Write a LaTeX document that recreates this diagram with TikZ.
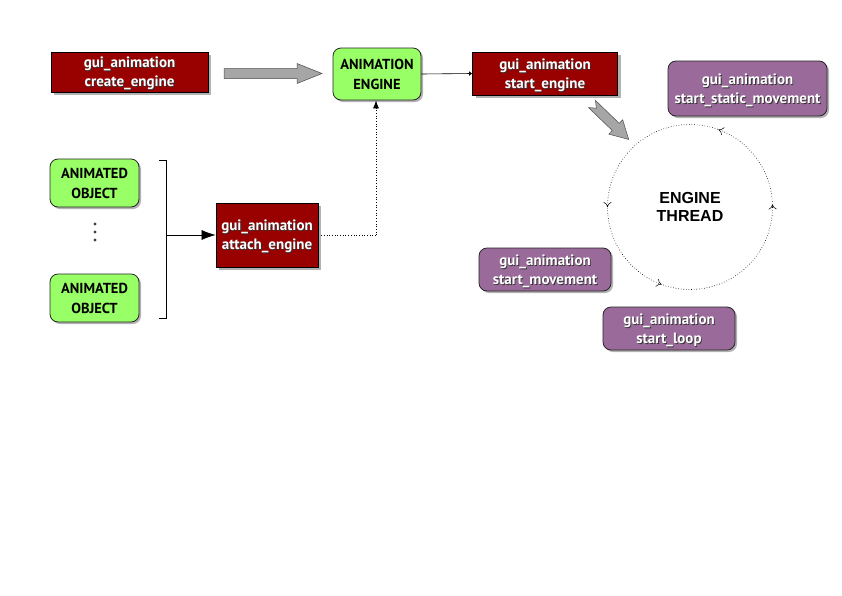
\documentclass[tikz,border=0pt]{standalone}
\usepackage{fontspec}
\setmainfont{PT Sans}
\newfontfamily\thrfont{Liberation Sans}
\usetikzlibrary{shadows,arrows.meta,decorations.markings}
\definecolor{dred}{HTML}{990000}
\definecolor{lgreen}{HTML}{99FF66}
\definecolor{mpurple}{HTML}{9A6A9A}
\definecolor{fatgray}{HTML}{A6A6A6}
\newcommand\shl[1]{\makebox[0pt][l]{\kern0.9pt\raisebox{-0.9pt}{\textcolor{black!80}{#1}}}#1}
\tikzset{
  redbox/.style={draw=black, line width=0.8pt, fill=dred, text=white, font=\bfseries\fontsize{15}{19}\selectfont, align=center, inner sep=0pt, text depth=0pt,
    drop shadow={shadow xshift=3pt, shadow yshift=-3pt, fill=black!30, opacity=1}},
  greenbox/.style={draw=black!85, line width=0.8pt, fill=lgreen, rounded corners=8pt, text=black, font=\bfseries\fontsize{14.5}{20}\selectfont, align=center, inner sep=0pt,
    drop shadow={shadow xshift=2pt, shadow yshift=-2pt, fill=black!30, opacity=1}},
  purplebox/.style={draw=black!85, line width=0.8pt, fill=mpurple, rounded corners=8pt, text=white, font=\bfseries\fontsize{15}{19}\selectfont, align=center, inner sep=0pt, text depth=0pt,
    drop shadow={shadow xshift=2pt, shadow yshift=-2pt, fill=black!30, opacity=1}},
  fatarrow/.style={draw=black!70, line width=0.5pt, fill=fatgray},
  conn/.style={line width=0.6pt},
  dotconn/.style={line width=0.7pt, dotted},
  dotcircle/.style={line width=0.6pt, dotted},
  circtip/.style={line width=0.5pt},
}
\begin{document}
\begin{tikzpicture}[x=1pt,y=-1pt]
\useasboundingbox (0,0) rectangle (842,595);
% boxes
\node[redbox, minimum width=157pt, minimum height=40pt] (ce) at (129.5,72) {\shl{gui\_animation}\\\shl{create\_engine}};
\node[greenbox, minimum width=88pt, minimum height=52pt] (ae) at (377,74) {ANIMATION\\ENGINE};
\node[redbox, minimum width=145pt, minimum height=43pt] (se) at (545,73.5) {\shl{gui\_animation}\\\shl{start\_engine}};
\node[purplebox, minimum width=159pt, minimum height=55pt] (ssm) at (747.5,88.5) {\shl{gui\_animation}\\\shl{start\_static\_movement}};
\node[greenbox, minimum width=89pt, minimum height=48pt] (ao1) at (94.5,183) {ANIMATED\\OBJECT};
\node[greenbox, minimum width=89pt, minimum height=48pt] (ao2) at (94.5,298) {ANIMATED\\OBJECT};
\node[redbox, minimum width=102pt, minimum height=64pt] (at) at (267,235) {\shl{gui\_animation}\\\shl{attach\_engine}};
\node[purplebox, minimum width=132pt, minimum height=43pt] (sm) at (545,269.5) {\shl{gui\_animation}\\\shl{start\_movement}};
\node[purplebox, minimum width=132pt, minimum height=43pt] (sl) at (669,328.5) {\shl{gui\_animation}\\\shl{start\_loop}};
% dots
\foreach \yy in {224,232,240} \fill[black!75] (95,\yy) circle (1.6pt);
% bracket
\coordinate (bt) at (166,160);
\coordinate (bb) at (166,318);
\coordinate (bm) at (166,235);
\draw[conn] (159,160) -- (bt) -- (bb) -- (159,318);
\draw[conn, -{Latex[length=14pt,width=10pt]}] (bm) -- (at.west);
% dotted connector to engine
\coordinate (dc) at (376,235);
\draw[dotconn] (at.east) -- (dc);
\draw[dotconn, -{Latex[length=8pt,width=6pt]}] (dc) -- (ae.south -| dc);
% engine to start_engine
\draw[conn, -{Latex[length=3pt,width=5pt]}] (ae.east) -- (se.west);
% fat horizontal arrow
\draw[fatarrow] (224,68.5) -- (297,68.5) -- (297,63.5) -- (322,73.5) -- (297,83.5) -- (297,78.5) -- (224,78.5) -- cycle;
% fat diagonal arrow
\begin{scope}[shift={(592,104)}, rotate=-44]
\draw[fatarrow] (0,5) -- (33,5) -- (33,10) -- (51,0) -- (33,-10) -- (33,-5) -- (0,-5) -- (6,0) -- cycle;
\end{scope}
% engine thread circle
\coordinate (th) at (690,207);
\draw[dotcircle, decoration={markings,
   mark=at position 0.005 with {\arrow[circtip]{To[length=5pt,width=8pt]}},
   mark=at position 0.194 with {\arrow[circtip]{To[length=5pt,width=8pt]}},
   mark=at position 0.5 with {\arrow[circtip]{To[length=5pt,width=8pt]}},
   mark=at position 0.694 with {\arrow[circtip]{To[length=5pt,width=8pt]}}}, postaction=decorate]
   ([xshift=82.5pt]th) arc[start angle=0, end angle=-360, radius=82.5];
\node[font=\thrfont\bfseries\fontsize{16}{18.5}\selectfont, align=center] (tt) at (th) {ENGINE\\THREAD};
\end{tikzpicture}
\end{document}
